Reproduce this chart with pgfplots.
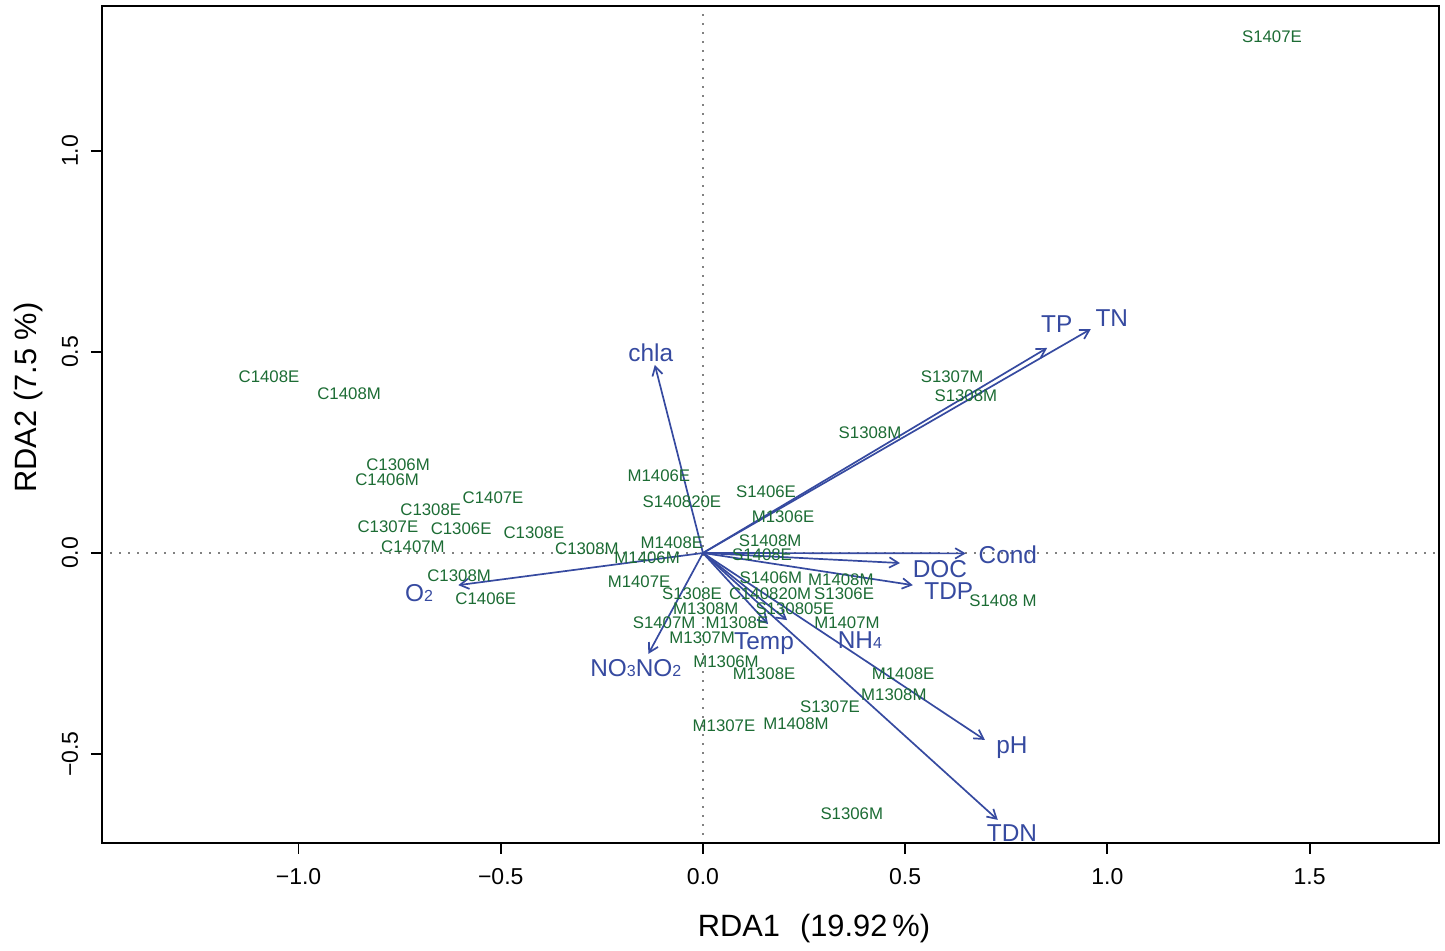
\documentclass[border=0pt]{standalone}
\usepackage{pgfplots}
\usepackage{pgfplotstable}
\pgfplotsset{compat=1.18}
\usepackage{fontspec}
\setmainfont{Liberation Sans}
\usetikzlibrary{arrows.meta}

\definecolor{sitegreen}{RGB}{28,108,52}
\definecolor{envblue}{RGB}{54,74,160}

\newcommand{\sitefont}{\fontsize{8.4}{9}\selectfont}
\newcommand{\envfont}{\fontsize{12.2}{14}\selectfont}
\newcommand{\sub}[1]{{\fontsize{8}{9}\selectfont #1}}

% site scores on RDA1 / RDA2
\pgfplotstableread[col sep=comma]{
x,y,lab
1.407,1.284,S1407E
-1.073,0.440,C1408E
-0.875,0.396,C1408M
-0.754,0.219,C1306M
-0.781,0.182,C1406M
-0.673,0.109,C1308E
-0.519,0.137,C1407E
-0.779,0.065,C1307E
-0.598,0.062,C1306E
-0.418,0.052,C1308E
-0.717,0.017,C1407M
-0.287,0.012,C1308M
-0.603,-0.055,C1308M
-0.537,-0.112,C1406E
-0.109,0.192,M1406E
-0.052,0.129,S140820E
0.156,0.152,S1406E
0.198,0.092,M1306E
0.166,0.032,S1408M
-0.077,0.025,M1408E
-0.138,-0.012,M1406M
0.146,-0.005,S1408E
-0.158,-0.072,M1407E
0.168,-0.062,S1406M
0.341,-0.067,M1408M
-0.027,-0.100,S1308E
0.166,-0.100,C140820M
0.349,-0.100,S1306E
0.007,-0.139,M1308M
0.227,-0.139,S130805E
-0.096,-0.174,S1407M
0.084,-0.174,M1308E
0.356,-0.172,M1407M
-0.002,-0.209,M1307M
0.057,-0.269,M1306M
0.151,-0.301,M1308E
0.495,-0.299,M1408E
0.472,-0.351,M1308M
0.314,-0.381,S1307E
0.052,-0.430,M1307E
0.230,-0.423,M1408M
0.368,-0.647,S1306M
0.616,0.438,S1307M
0.650,0.391,S1308M
0.413,0.299,S1308M
0.742,-0.117,S1408 M
}\sitescores

\pgfplotsset{
  envarrow/.style={envblue, line width=0.85pt,
    -{Straight Barb[length=4.5pt,width=5.2pt,line width=0.85pt]}, forget plot},
  zeroline/.style={black, line width=0.9pt, line cap=round,
    dash pattern=on 0pt off 4.5pt, forget plot},
}

\begin{document}
\begin{tikzpicture}
\begin{axis}[
  name=ax,
  scale only axis,
  width=668.5pt, height=418.5pt,
  xmin=-1.486, xmax=1.820,
  ymin=-0.7214, ymax=1.3607,
  axis line style={black, line width=0.9pt},
  xtick={-1,-0.5,0,0.5,1,1.5},
  xticklabels={−1.0,−0.5,0.0,0.5,1.0,1.5},
  ytick={-0.5,0,0.5,1},
  yticklabels={−0.5,0.0,0.5,1.0},
  tick pos=left,
  tick align=outside,
  major tick length=5.5pt,
  tick style={black, line width=0.9pt},
  ticklabel style={font=\fontsize{11.5}{13}\selectfont},
  xticklabel style={anchor=base, yshift=-15.5pt},
  yticklabel style={xshift=-6.5pt, rotate=90, anchor=base},
]
% reference lines through the origin
\addplot[zeroline] coordinates {(-1.486,0) (1.820,0)};
\addplot[zeroline] coordinates {(0,-0.7214) (0,1.3607)};

% environmental vectors
\addplot[envarrow] coordinates {(0,0) (0.851,0.510)};   % TP
\addplot[envarrow] coordinates {(0,0) (0.959,0.557)};   % TN
\addplot[envarrow] coordinates {(0,0) (-0.119,0.468)};  % chla
\addplot[envarrow] coordinates {(0,0) (0.650,-0.001)};  % Cond
\addplot[envarrow] coordinates {(0,0) (0.487,-0.025)};  % DOC
\addplot[envarrow] coordinates {(0,0) (0.519,-0.080)};  % TDP
\addplot[envarrow] coordinates {(0,0) (-0.605,-0.080)}; % O2
\addplot[envarrow] coordinates {(0,0) (-0.135,-0.251)}; % NO3NO2
\addplot[envarrow] coordinates {(0,0) (0.161,-0.177)};  % Temp
\addplot[envarrow] coordinates {(0,0) (0.208,-0.167)};  % NH4
\addplot[envarrow] coordinates {(0,0) (0.697,-0.465)};  % pH
\addplot[envarrow] coordinates {(0,0) (0.729,-0.664)};  % TDN

% site labels
\addplot[only marks, mark=none, nodes near coords, point meta=explicit symbolic,
  nodes near coords style={anchor=center, text=sitegreen, font=\sitefont,
    text height=6pt, text depth=0pt, inner sep=0pt}]
  table[x=x, y=y, meta=lab] {\sitescores};

% vector labels
\begin{scope}[every node/.style={text=envblue, font=\envfont, anchor=center,
    text height=8.7pt, text depth=0pt, inner sep=0pt}]
\node at (axis cs:0.875,0.570) {TP};
\node at (axis cs:1.011,0.585) {TN};
\node at (axis cs:-0.129,0.498) {chla};
\node at (axis cs:0.754,-0.005) {Cond};
\node at (axis cs:0.586,-0.040) {DOC};
\node at (axis cs:0.608,-0.095) {TDP};
\node at (axis cs:-0.702,-0.100) {O\sub{2}};
\node at (axis cs:-0.166,-0.286) {NO\sub{3}NO\sub{2}};
\node at (axis cs:0.151,-0.219) {Temp};
\node at (axis cs:0.388,-0.216) {NH\sub{4}};
\node at (axis cs:0.764,-0.478) {pH};
\node at (axis cs:0.764,-0.697) {TDN};
\end{scope}
\end{axis}

% axis titles
\node[font=\fontsize{15.4}{17}\selectfont, anchor=base]
  at ([xshift=356pt, yshift=-47pt]ax.south west)
  {RDA1\hspace{10pt}(19.92\hspace{2.5pt}\%)};
\node[font=\fontsize{15.4}{17}\selectfont, rotate=90, anchor=base]
  at ([xshift=-32.5pt, yshift=222.75pt]ax.south west)
  {RDA2 (7.5 \%)};

% page extent
\path ([shift={(-51pt,-54pt)}]ax.south west) rectangle ([shift={(3pt,3pt)}]ax.north east);
\end{tikzpicture}
\end{document}
